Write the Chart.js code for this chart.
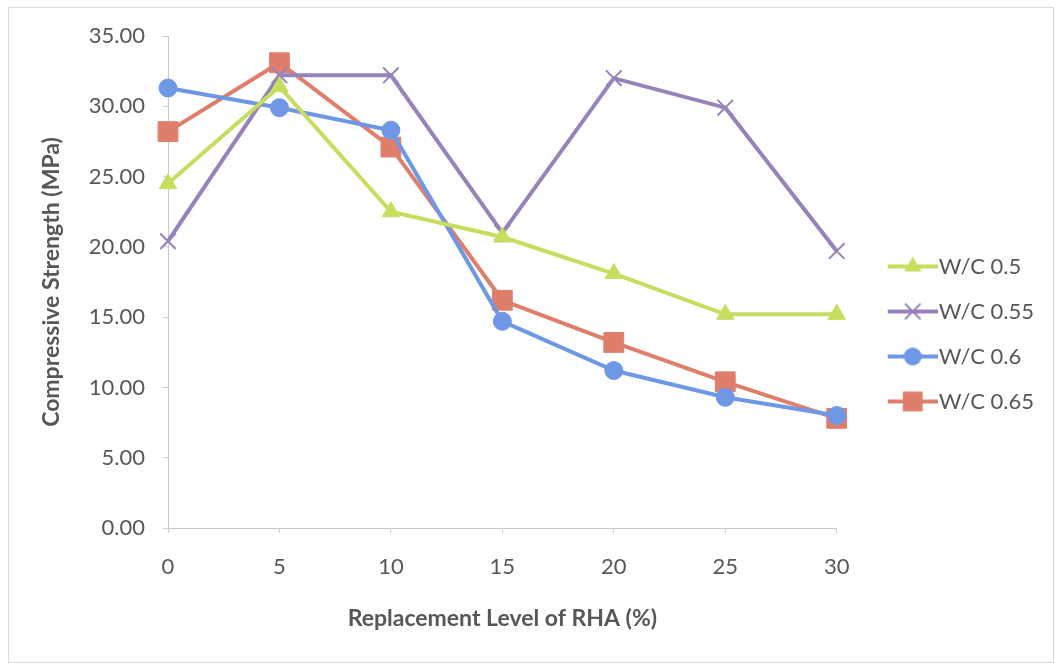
<!DOCTYPE html>
<html>
<head>
<meta charset="utf-8">
<script src="https://cdn.jsdelivr.net/npm/chart.js@4.4.1/dist/chart.umd.min.js"></script>
<style>
  html, body { margin: 0; padding: 0; background: #ffffff; }
  #wrap { position: relative; width: 1057px; height: 664px; }
</style>
</head>
<body>
<div id="wrap"><canvas id="c" width="1057" height="664"></canvas></div>
<script>
// ---- data ----
const categories = ['0', '5', '10', '15', '20', '25', '30'];
const seriesNames = ['W/C 0.5', 'W/C 0.55', 'W/C 0.6', 'W/C 0.65'];
const wc050 = [24.5, 31.4, 22.5, 20.7, 18.1, 15.2, 15.2];
const wc055 = [20.4, 32.2, 32.2, 21.0, 32.0, 29.9, 19.7];
const wc060 = [31.3, 29.9, 28.3, 14.7, 11.2, 9.3, 8.0];
const wc065 = [28.2, 33.1, 27.1, 16.2, 13.2, 10.4, 7.8];
const yTickMin = 0, yTickMax = 35, yTickStep = 5;

const colors = ['#c5de5e', '#9683ba', '#6e98e6', '#e07e6c'];
const markers = ['triangle', 'crossRot', 'circle', 'rect'];
const radii = [10, 11, 9, 14];
const markerBorder = [1, 2, 1, 1];

const FONT = 'Lato, "Open Sans", sans-serif';
const TXT = '#575757';
const FS = 22;
const BOXW = 68;

function legendImage(i) {
  const w = BOXW + FS - 2, h = 26;
  const cv = document.createElement('canvas');
  cv.width = w; cv.height = h;
  const ctx = cv.getContext('2d');
  const x0 = w - 50, x1 = w, cx = (x0 + x1) / 2, cy = h / 2;
  ctx.strokeStyle = colors[i];
  ctx.fillStyle = colors[i];
  ctx.lineWidth = 4;
  ctx.beginPath(); ctx.moveTo(x0, cy); ctx.lineTo(x1, cy); ctx.stroke();
  const r = radii[i];
  ctx.beginPath();
  if (markers[i] === 'triangle') {
    for (let k = 0; k < 3; k++) {
      const a = k * 2 * Math.PI / 3;
      const px = cx + Math.sin(a) * r, py = cy - Math.cos(a) * r;
      k === 0 ? ctx.moveTo(px, py) : ctx.lineTo(px, py);
    }
    ctx.closePath(); ctx.fill();
  } else if (markers[i] === 'circle') {
    ctx.arc(cx, cy, r, 0, Math.PI * 2); ctx.fill();
  } else if (markers[i] === 'rect') {
    const s = r * Math.SQRT1_2;
    ctx.fillRect(cx - s, cy - s, 2 * s, 2 * s);
  } else {
    const d = r * Math.SQRT1_2;
    ctx.lineWidth = 2;
    ctx.moveTo(cx - d, cy - d); ctx.lineTo(cx + d, cy + d);
    ctx.moveTo(cx - d, cy + d); ctx.lineTo(cx + d, cy - d);
    ctx.stroke();
  }
  return cv;
}

const seriesValues = [wc050, wc055, wc060, wc065];
const datasets = seriesValues.map((vals, i) => ({
  label: seriesNames[i],
  data: vals,
  borderColor: colors[i],
  backgroundColor: colors[i],
  borderWidth: 4,
  pointStyle: markers[i],
  pointRadius: radii[i],
  pointHoverRadius: radii[i],
  pointBorderWidth: markerBorder[i],
  pointBorderColor: colors[i],
  pointBackgroundColor: colors[i],
  tension: 0,
  fill: false,
  clip: false
}));

const frame = {
  id: 'frame',
  beforeDraw(chart) {
    const ctx = chart.ctx;
    ctx.save();
    ctx.fillStyle = '#ffffff';
    ctx.fillRect(0, 0, chart.width, chart.height);
    ctx.strokeStyle = '#d9d9d9';
    ctx.lineWidth = 1;
    ctx.strokeRect(8.5, 7.5, 1045, 655);
    ctx.restore();
  }
};

new Chart(document.getElementById('c'), {
  type: 'line',
  data: { labels: categories, datasets },
  plugins: [frame],
  options: {
    responsive: false,
    animation: false,
    devicePixelRatio: 1,
    layout: { padding: { top: 36, right: 13, bottom: 32, left: 0 } },
    plugins: {
      tooltip: { enabled: false },
      legend: {
        display: true,
        position: 'right',
        align: 'center',
        labels: {
          usePointStyle: true,
          pointStyleWidth: BOXW,
          padding: 23,
          color: TXT,
          font: { family: FONT, size: FS },
          generateLabels(chart) {
            const items = Chart.defaults.plugins.legend.labels.generateLabels(chart);
            items.forEach((it, i) => { it.pointStyle = legendImage(i); it.fontColor = TXT; });
            return items;
          }
        }
      }
    },
    scales: {
      x: {
        type: 'category',
        offset: false,
        grid: { display: true, drawOnChartArea: false, drawTicks: true, tickLength: 5, color: '#d0d0d0' },
        border: { display: true, color: '#c8c8c8', width: 1 },
        ticks: { color: TXT, font: { family: FONT, size: FS }, padding: 21, maxRotation: 0, autoSkip: false },
        title: {
          display: true,
          text: 'Replacement Level of RHA (%)',
          color: TXT,
          font: { family: FONT, size: 23, weight: 'bold' },
          padding: { top: 0, bottom: 0 }
        },
        afterFit(s) { s.height = 664 - 32 - 528; }
      },
      y: {
        min: yTickMin,
        max: yTickMax,
        grid: { display: true, drawOnChartArea: false, drawTicks: true, tickLength: 5, color: '#d0d0d0' },
        border: { display: true, color: '#c8c8c8', width: 1 },
        ticks: {
          stepSize: yTickStep,
          color: TXT,
          font: { family: FONT, size: FS },
          padding: 18,
          callback: v => Number(v).toFixed(2)
        },
        title: {
          display: true,
          text: 'Compressive Strength (MPa)',
          color: TXT,
          font: { family: FONT, size: 23, weight: 'bold' },
          padding: { top: 38, bottom: 0 }
        },
        afterFit(s) { s.width = 168; }
      }
    }
  }
});
</script>
</body>
</html>
